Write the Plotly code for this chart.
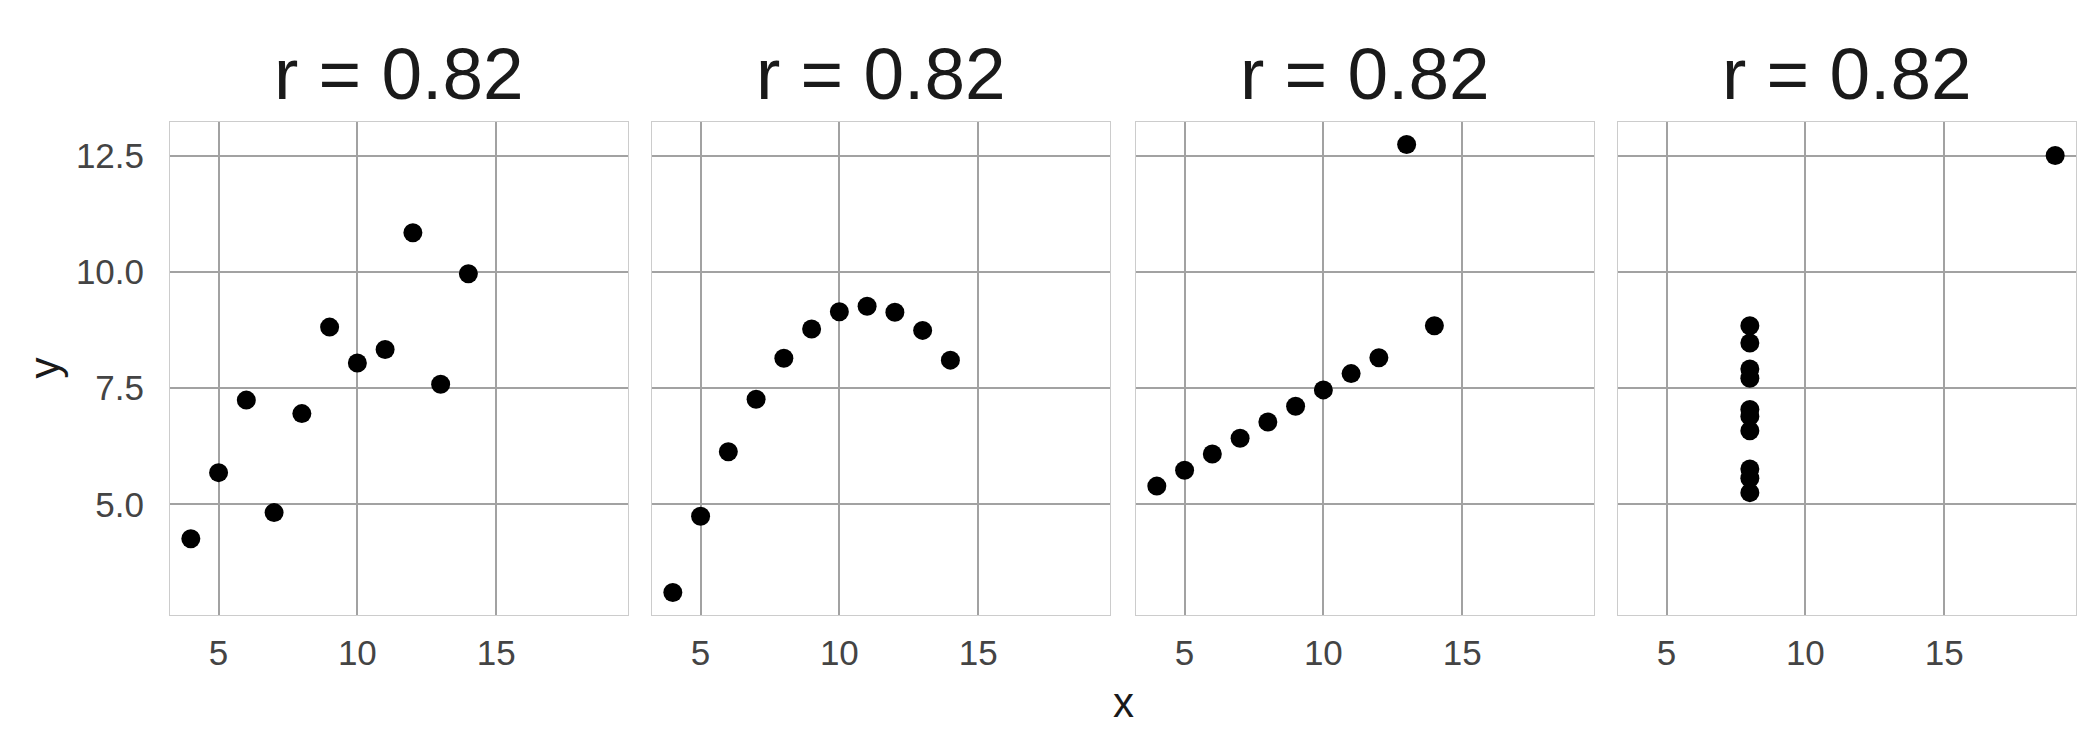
import plotly.graph_objects as go

# Anscombe's quartet
x_123 = [10, 8, 13, 9, 11, 14, 6, 4, 12, 7, 5]
y_1 = [8.04, 6.95, 7.58, 8.81, 8.33, 9.96, 7.24, 4.26, 10.84, 4.82, 5.68]
y_2 = [9.14, 8.14, 8.74, 8.77, 9.26, 8.10, 6.13, 3.10, 9.13, 7.26, 4.74]
y_3 = [7.46, 6.77, 12.74, 7.11, 7.81, 8.84, 6.08, 5.39, 8.15, 6.42, 5.73]
x_4 = [8, 8, 8, 8, 8, 8, 8, 19, 8, 8, 8]
y_4 = [6.58, 5.76, 7.71, 8.84, 8.47, 7.04, 5.25, 12.50, 5.56, 7.91, 6.89]
titles = ["r = 0.82", "r = 0.82", "r = 0.82", "r = 0.82"]
x_ticks = [5, 10, 15]
y_ticks = [5.0, 7.5, 10.0, 12.5]

panels = [(x_123, y_1), (x_123, y_2), (x_123, y_3), (x_4, y_4)]

# page body has an 8px margin, so figure coords = screen coords - 8
W, H = 2100, 750
ML, MR, MT, MB = 162, 32, 114, 143
plot_w = W - ML - MR
lefts = [162, 644, 1128, 1610]
panel_w = 458

FONT = "Liberation Sans, Arial, sans-serif"
GRID = "#a2a2a2"
BORDER = "#cccccc"

fig = go.Figure()
layout = {}

for i, (xs, ys) in enumerate(panels):
    n = "" if i == 0 else str(i + 1)
    fig.add_trace(go.Scatter(
        x=xs, y=ys, mode="markers",
        marker=dict(size=19, color="black", line=dict(width=0)),
        xaxis="x" + n, yaxis="y" + n, showlegend=False,
    ))
    d0 = (lefts[i] - ML) / plot_w
    d1 = (lefts[i] + panel_w - ML) / plot_w
    layout["xaxis" + n] = dict(
        domain=[d0, min(d1, 1)], range=[3.25, 19.75], anchor="y" + n,
        tickvals=x_ticks, showgrid=True, gridcolor=GRID, gridwidth=1.5,
        zeroline=False, showline=True, mirror=True, linecolor=BORDER, linewidth=1,
        ticks="", ticklabelstandoff=7,
        tickfont=dict(family=FONT, size=35, color="#444444"),
    )
    layout["yaxis" + n] = dict(
        domain=[0, 1], range=[2.618, 13.222], anchor="x" + n,
        tickvals=y_ticks, tickformat=".1f", showticklabels=(i == 0),
        showgrid=True, gridcolor=GRID, gridwidth=1.5,
        zeroline=False, showline=True, mirror=True, linecolor=BORDER, linewidth=1,
        ticks="", ticklabelstandoff=18,
        tickfont=dict(family=FONT, size=35, color="#444444"),
    )

annotations = []
for i, t in enumerate(titles):
    cx = (lefts[i] + panel_w / 2 - ML) / plot_w
    annotations.append(dict(
        text=t, x=cx, y=1, xref="paper", yref="paper",
        xanchor="center", yanchor="bottom", yshift=6, showarrow=False,
        font=dict(family=FONT, size=73, color="#1a1a1a"),
    ))

# shared axis labels
annotations.append(dict(
    text="x", x=(1115 - ML) / plot_w, y=0, xref="paper", yref="paper",
    xanchor="center", yanchor="top", yshift=-62, showarrow=False,
    font=dict(family=FONT, size=42, color="#1a1a1a"),
))
annotations.append(dict(
    text="y", x=(36 - ML) / plot_w, y=0.5, xref="paper", yref="paper",
    xanchor="center", yanchor="middle", textangle=-90, showarrow=False,
    font=dict(family=FONT, size=42, color="#1a1a1a"),
))

fig.update_layout(
    width=W, height=H,
    margin=dict(l=ML, r=MR, t=MT, b=MB),
    paper_bgcolor="white", plot_bgcolor="white",
    annotations=annotations,
    **layout,
)

fig.write_html("out.html")
